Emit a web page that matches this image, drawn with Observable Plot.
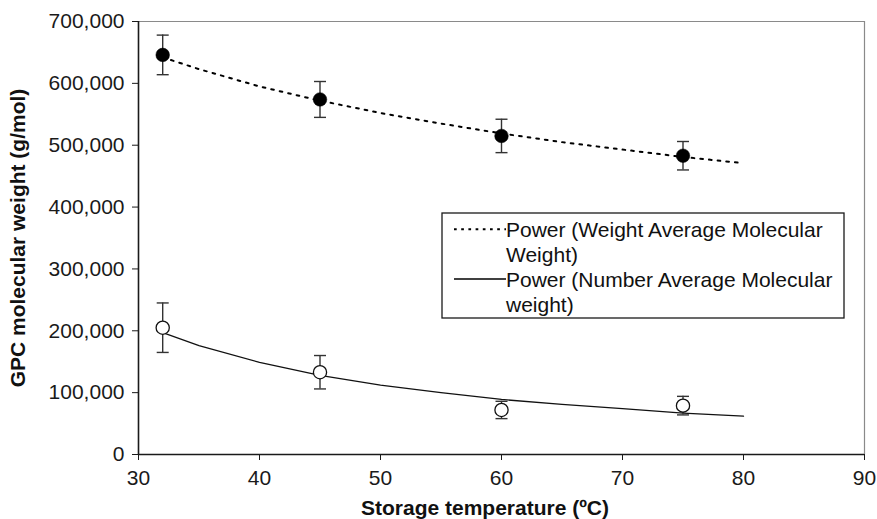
<!DOCTYPE html>
<html>
<head>
<meta charset="utf-8">
<script src="https://cdn.jsdelivr.net/npm/d3@7"></script>
<script src="https://cdn.jsdelivr.net/npm/@observablehq/plot@0.6"></script>
<style>
  html, body { margin: 0; padding: 0; background: #fff; }
  #chart { position: relative; width: 877px; height: 519px; }
</style>
</head>
<body>
<div id="chart"></div>
<script>
// ---- data ----
const temps = [32, 45, 60, 75];
const weightAvg = [646000, 574000, 515000, 483000];
const weightErr = [32000, 29000, 27000, 23000];
const numberAvg = [205000, 133000, 72000, 79000];
const numberErr = [40000, 27000, 14000, 15000];

// power trendlines, values
const fitTemps  = [32, 35, 40, 45, 50, 55, 60, 65, 70, 75, 80];
const fitWeight = [642000, 623000, 595000, 572000, 552000, 535000, 519000, 505000, 493000, 481000, 471000];
const fitNumber = [197000, 176000, 149000, 128000, 112000, 100000, 89000, 81000, 74000, 67000, 62000];

const xTicks = [30, 40, 50, 60, 70, 80, 90];
const yTicks = [0, 100000, 200000, 300000, 400000, 500000, 600000, 700000];
const xTitle = "Storage temperature (ºC)";
const yTitle = "GPC molecular weight (g/mol)";
const legendLines = [
  ["Power (Weight Average Molecular", "Weight)"],
  ["Power (Number Average Molecular", "weight)"]
];

// ---- tables ----
const wPts = temps.map((t, i) => ({t, y: weightAvg[i], e: weightErr[i]}));
const nPts = temps.map((t, i) => ({t, y: numberAvg[i], e: numberErr[i]}));
const wFit = fitTemps.map((t, i) => ({t, y: fitWeight[i]}));
const nFit = fitTemps.map((t, i) => ({t, y: fitNumber[i]}));

const capSymbol = {
  draw(ctx, size) {
    const h = Math.sqrt(size / Math.PI);
    ctx.moveTo(-h, 0);
    ctx.lineTo(h, 0);
  }
};

const errColor = "#333";
const errMarks = (pts) => [
  Plot.ruleX(pts, {x: "t", y1: d => d.y - d.e, y2: d => d.y + d.e, stroke: errColor, strokeWidth: 1.4}),
  Plot.dot(pts, {x: "t", y: d => d.y + d.e, symbol: capSymbol, r: 6, fill: "none", stroke: errColor, strokeWidth: 1.4}),
  Plot.dot(pts, {x: "t", y: d => d.y - d.e, symbol: capSymbol, r: 6, fill: "none", stroke: errColor, strokeWidth: 1.4})
];

const chart = Plot.plot({
  width: 877,
  height: 519,
  marginLeft: 138,
  marginRight: 13,
  marginTop: 21,
  marginBottom: 65,
  style: {fontFamily: "'Liberation Sans', Arial, sans-serif", fontSize: "21px", background: "#fff", color: "#1a1a1a"},
  x: {domain: [30, 90]},
  y: {domain: [0, 700000]},
  marks: [
    Plot.ruleY([700000], {stroke: "#8a8a8a", strokeWidth: 1.2}),
    Plot.ruleX([90], {stroke: "#8a8a8a", strokeWidth: 1.2}),
    Plot.line(wFit, {x: "t", y: "y", stroke: "#000", strokeWidth: 2, strokeDasharray: "2.7,6"}),
    Plot.line(nFit, {x: "t", y: "y", stroke: "#111", strokeWidth: 1.3}),
    ...errMarks(wPts),
    ...errMarks(nPts),
    Plot.dot(wPts, {x: "t", y: "y", r: 6.8, fill: "#000", stroke: "#000", strokeWidth: 0.5}),
    Plot.dot(nPts, {x: "t", y: "y", r: 6.6, fill: "#fff", stroke: "#111", strokeWidth: 1.3}),
    Plot.axisX({ticks: xTicks, tickSize: 6, tickPadding: 10, label: null, fontSize: 21}),
    Plot.axisY({ticks: yTicks, tickFormat: d3.format(","), tickSize: 6, tickPadding: 8, label: null, fontSize: 21}),
    Plot.ruleX([30], {stroke: "#1a1a1a", strokeWidth: 1.6}),
    Plot.ruleY([0], {stroke: "#1a1a1a", strokeWidth: 1.6}),
    Plot.text([xTitle], {text: d => d, frameAnchor: "bottom", dx: -16.5, dy: 53.5, fontWeight: "bold", fontSize: 21, textAnchor: "middle", lineAnchor: "middle", fill: "#111"}),
    Plot.text([yTitle], {text: d => d, frameAnchor: "left", dx: -120.5, rotate: -90, fontWeight: "bold", fontSize: 21, textAnchor: "middle", lineAnchor: "middle", fill: "#111"})
  ]
});

document.getElementById("chart").appendChild(chart);

// ---- legend (pixel layout inside the svg) ----
const svg = d3.select(chart);
const lg = svg.append("g").attr("class", "legend").attr("text-anchor", "start");
lg.append("rect")
  .attr("x", 442).attr("y", 213).attr("width", 402).attr("height", 105)
  .attr("fill", "#fff").attr("stroke", "#1a1a1a").attr("stroke-width", 1.3);
const entryTop = [236.5, 286.5];
const sampleY = [229.3, 279];
legendLines.forEach((lines, i) => {
  lg.append("line")
    .attr("x1", 454).attr("x2", 506).attr("y1", sampleY[i]).attr("y2", sampleY[i])
    .attr("stroke", "#000")
    .attr("stroke-width", i === 0 ? 2 : 1.3)
    .attr("stroke-dasharray", i === 0 ? "2.7,4.5" : null);
  lines.forEach((s, j) => {
    lg.append("text")
      .attr("x", 506).attr("y", entryTop[i] + j * 25)
      .attr("text-anchor", "start")
      .attr("font-size", 21).attr("fill", "#111")
      .text(s);
  });
});
</script>
</body>
</html>
